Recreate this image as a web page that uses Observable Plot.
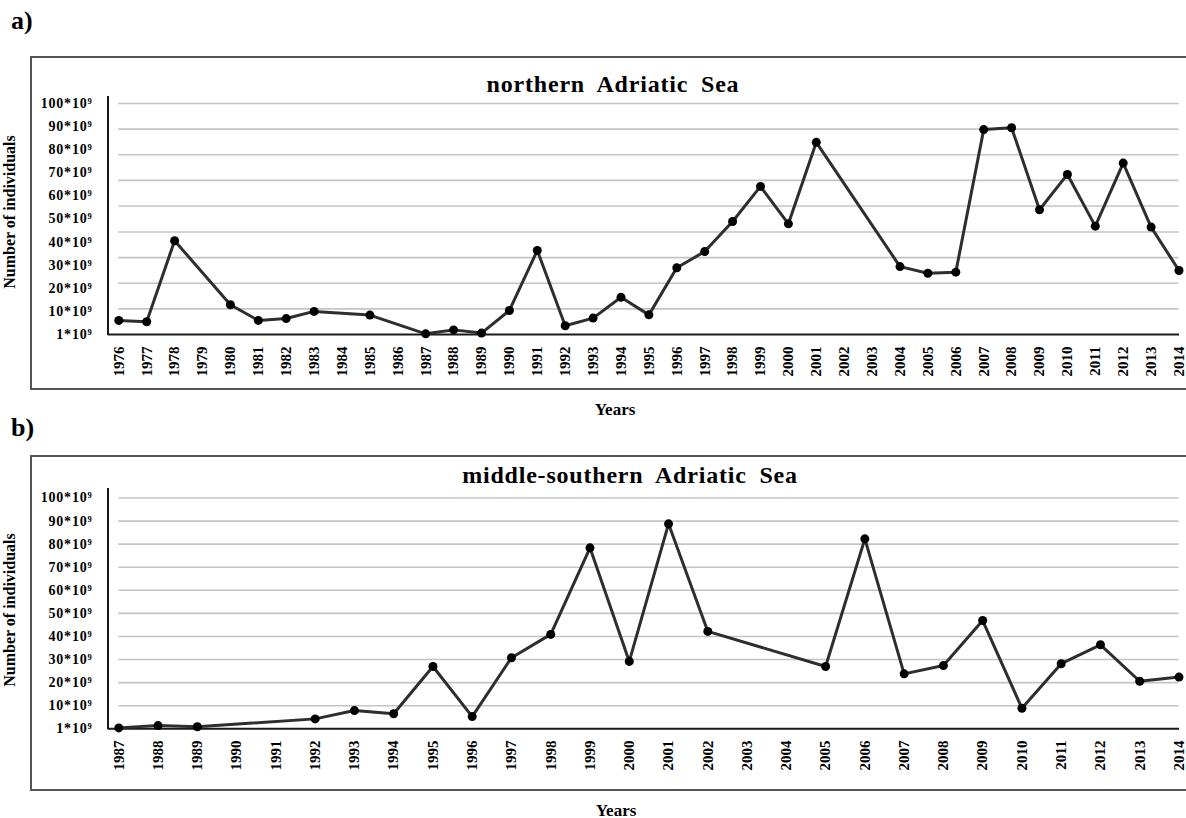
<!DOCTYPE html>
<html>
<head>
<meta charset="utf-8">
<script src="https://cdn.jsdelivr.net/npm/d3@7"></script>
<script src="https://cdn.jsdelivr.net/npm/@observablehq/plot@0.6"></script>
<style>
  body { margin: 0; background: #fff; }
  #page { position: relative; width: 1186px; height: 818px; overflow: hidden;
          font-family: "Liberation Serif", "Times New Roman", serif; font-weight: bold; color: #000; }
  #page .abs { position: absolute; line-height: 1; white-space: pre; }
  #page .box { position: absolute; box-sizing: border-box; border: 2px solid #555; }
  #page svg { position: absolute; left: 0; top: 0; }
  .tag { font-size: 26px; }
  #page .title { font-size: 24px; letter-spacing: 0.8px; word-spacing: 6px; transform: translateX(-50%); }
  #page .xtitle { font-size: 17px; line-height: 0.9; transform: translateX(-50%); }
  #page .ytitle { font-size: 16px; line-height: 1; transform: translate(-50%, -50%) rotate(-90deg); }
  #page svg g[aria-label="y-axis tick label"] text { letter-spacing: 0.8px; }
</style>
</head>
<body>
<div id="page"></div>
<script>
// Annual abundance (×10^9 individuals), northern Adriatic Sea
const yearsNorth = [1976, 1977, 1978, 1980, 1981, 1982, 1983, 1985, 1987, 1988, 1989, 1990, 1991,
  1992, 1993, 1994, 1995, 1996, 1997, 1998, 1999, 2000, 2001, 2004, 2005, 2006, 2007, 2008,
  2009, 2010, 2011, 2012, 2013, 2014];
const valuesNorth = [6.1, 5.5, 40.6, 12.9, 6.1, 6.9, 10.0, 8.4, 0.3, 2.0, 0.6, 10.4, 36.4,
  3.8, 7.1, 16.1, 8.5, 28.9, 35.9, 48.9, 64.1, 47.9, 83.2, 29.4, 26.5, 27.0, 88.7, 89.5,
  54.0, 69.3, 46.9, 74.2, 46.5, 27.7];

// Annual abundance (×10^9 individuals), middle-southern Adriatic Sea
const yearsSouth = [1987, 1988, 1989, 1992, 1993, 1994, 1995, 1996, 1997, 1998, 1999, 2000,
  2001, 2002, 2005, 2006, 2007, 2008, 2009, 2010, 2011, 2012, 2013, 2014];
const valuesSouth = [0.4, 1.4, 0.9, 4.3, 7.9, 6.5, 27.0, 5.3, 30.8, 40.9, 78.4, 29.2,
  88.8, 42.2, 27.0, 82.3, 23.8, 27.4, 46.9, 8.9, 28.2, 36.4, 20.6, 22.4];

// Year tick labels on each x axis
const yearTicksNorth = [1976, 1977, 1978, 1979, 1980, 1981, 1982, 1983, 1984, 1985, 1986, 1987,
  1988, 1989, 1990, 1991, 1992, 1993, 1994, 1995, 1996, 1997, 1998, 1999, 2000, 2001, 2002,
  2003, 2004, 2005, 2006, 2007, 2008, 2009, 2010, 2011, 2012, 2013, 2014];
const yearTicksSouth = [1987, 1988, 1989, 1990, 1991, 1992, 1993, 1994, 1995, 1996, 1997, 1998,
  1999, 2000, 2001, 2002, 2003, 2004, 2005, 2006, 2007, 2008, 2009, 2010, 2011, 2012, 2013, 2014];

// Y tick values and their labels
const yTickValues = [0, 10, 20, 30, 40, 50, 60, 70, 80, 90, 100];
const yTickLabels = ["1*10⁹", "10*10⁹", "20*10⁹", "30*10⁹", "40*10⁹", "50*10⁹",
  "60*10⁹", "70*10⁹", "80*10⁹", "90*10⁹", "100*10⁹"];

// Horizontal grid levels
const gridNorth = [11.1, 22.2, 33.3, 44.4, 55.6, 66.7, 77.8, 88.9, 100];
const gridSouth = [10, 20, 30, 40, 50, 60, 70, 80, 90, 100];

const page = document.getElementById("page");

function addDiv(cls, text, style) {
  const d = document.createElement("div");
  d.className = cls;
  if (text != null) d.textContent = text;
  Object.assign(d.style, style);
  page.appendChild(d);
  return d;
}

// vertical axis line drawn at the left edge of the plot frame
function yAxisLine(index, scales, values, dims) {
  return d3.create("svg:line")
    .attr("x1", dims.marginLeft).attr("x2", dims.marginLeft)
    .attr("y1", dims.marginTop).attr("y2", scales.y(0) + 1)
    .attr("stroke", "#1a1a1a").attr("stroke-width", 2)
    .node();
}

function panel({years, values, ticks, grid, xRange, yRange, marginTop, marginBottom}) {
  const data = years.map((year, i) => ({year, value: values[i]}));
  const first = ticks[0], last = ticks[ticks.length - 1];
  return Plot.plot({
    width: 1186,
    height: 818,
    marginLeft: 108,
    marginRight: 7,
    marginTop,
    marginBottom,
    style: {background: "transparent", overflow: "visible",
            fontFamily: "'Liberation Serif', 'Times New Roman', serif", fontWeight: "bold", color: "#000"},
    x: {type: "linear", domain: [first, last], range: xRange},
    y: {type: "linear", domain: [0, 100], range: yRange},
    marks: [
      Plot.ruleY(grid, {x1: first, x2: last, stroke: "#c4c4c4", strokeWidth: 1.6}),
      Plot.axisX({ticks, tickFormat: d => String(d), tickRotate: -90, tickSize: 0, tickPadding: 11,
                  fontSize: 15, label: null}),
      Plot.axisY({ticks: yTickValues, tickFormat: d => yTickLabels[yTickValues.indexOf(d)],
                  tickSize: 0, tickPadding: 16, fontSize: 14, label: null}),
      Plot.ruleY([0], {stroke: "#1a1a1a", strokeWidth: 2}),
      yAxisLine,
      Plot.line(data, {x: "year", y: "value", stroke: "#2e2e2e", strokeWidth: 3}),
      Plot.dot(data, {x: "year", y: "value", r: 4.5, fill: "#000", stroke: "none"})
    ]
  });
}

// frames around each panel
addDiv("box", null, {left: "30px", top: "56px", width: "1170px", height: "334px"});
addDiv("box", null, {left: "30px", top: "455px", width: "1170px", height: "336px"});

// panel a)
page.appendChild(panel({
  years: yearsNorth, values: valuesNorth, ticks: yearTicksNorth, grid: gridNorth,
  xRange: [118.3, 1178.5], yRange: [334, 103], marginTop: 96, marginBottom: 818 - 335
}));
// panel b)
page.appendChild(panel({
  years: yearsSouth, values: valuesSouth, ticks: yearTicksSouth, grid: gridSouth,
  xRange: [118.3, 1178.5], yRange: [728.3, 497.5], marginTop: 488, marginBottom: 818 - 729
}));

// panel tags, titles, axis titles
addDiv("abs tag", "a)", {left: "11px", top: "8px"});
addDiv("abs tag", "b)", {left: "11px", top: "415px"});
addDiv("abs title", "northern Adriatic Sea", {left: "613px", top: "71.5px"});
addDiv("abs title", "middle-southern Adriatic Sea", {left: "630px", top: "463px"});
addDiv("abs xtitle", "Years", {left: "615px", top: "401.5px"});
addDiv("abs xtitle", "Years", {left: "616px", top: "802.5px"});
addDiv("abs ytitle", "Number of individuals", {left: "9.5px", top: "212px"});
addDiv("abs ytitle", "Number of individuals", {left: "9.5px", top: "610px"});
</script>
</body>
</html>
